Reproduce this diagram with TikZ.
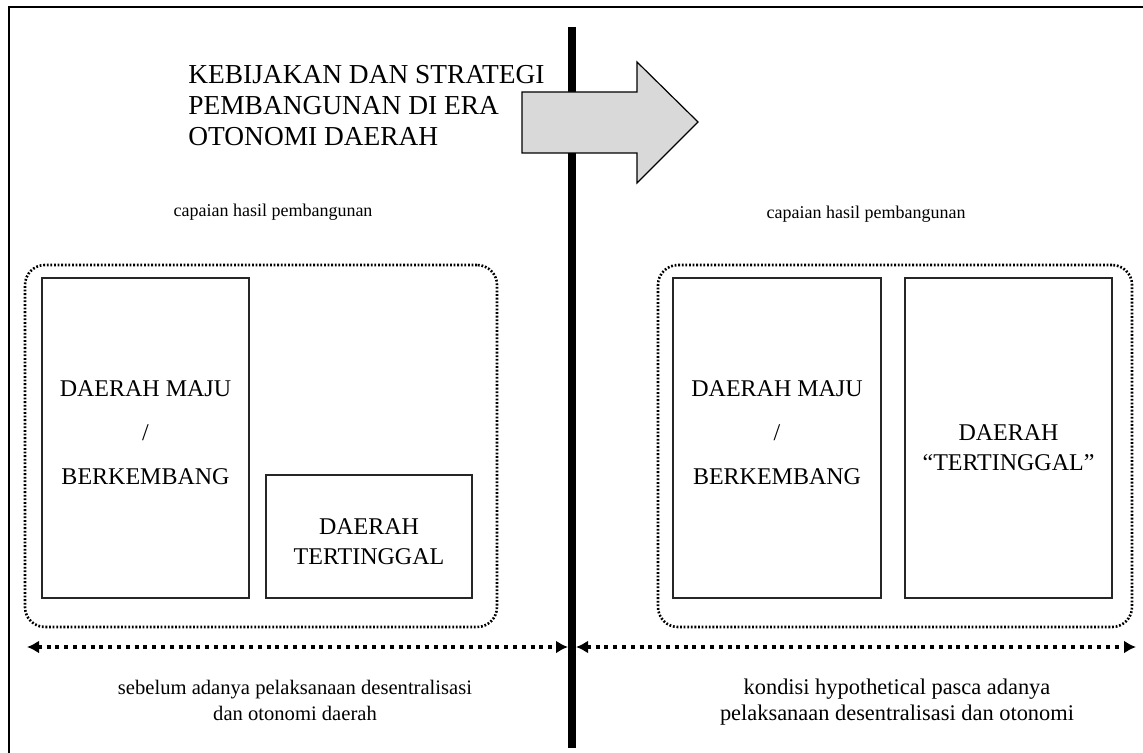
\documentclass[tikz,border=0pt]{standalone}
\usepackage{fontspec}
\setmainfont{Liberation Serif}
\usetikzlibrary{arrows.meta,positioning}
\tikzset{
    regbox/.style={rectangle,draw=black!85,line width=0.6pt,inner sep=0pt},
    regtext/.style={align=center,inner sep=0pt,font=\fontsize{12}{22}\selectfont},
    grpbox/.style={rectangle,draw=black,line width=1.3pt,dash pattern=on 0.9pt off 0.9pt,rounded corners=10pt,inner sep=0pt},
    spanarrow/.style={{Latex[length=6pt,width=6.5pt]}-{Latex[length=6pt,width=6.5pt]}, line width=2pt, dash pattern=on 2pt off 2.4pt},
    smalltext/.style={align=center, font=\fontsize{9}{11}\selectfont},
    captext/.style={align=center, font=\fontsize{10.3}{13}\selectfont}
}

\begin{document}
\begin{tikzpicture}[x=0.5pt,y=-0.5pt]
    \useasboundingbox (0,0) rectangle (1143,753);
    % outer frame
    \draw[line width=1pt] (9,753) -- (9,7) -- (1143,7);
    % divider
    \coordinate (divtop) at (572,27);
    \coordinate (divbot) at (572,748);
    \draw[line width=3.8pt] (divtop) -- (divbot);
    % title and block arrow
    \node[anchor=west, align=left, inner sep=0pt, font=\fontsize{13.7}{15.5}\selectfont] (title) at (188,106)
        {KEBIJAKAN DAN STRATEGI\\PEMBANGUNAN DI ERA\\OTONOMI DAERAH};
    \draw[fill=black!15, line width=0.6pt] (522,92) -- (637,92) -- (637,62) -- (698,122)
        -- (637,183) -- (637,153) -- (522,153) -- cycle;
    % before
    \node[smalltext] (cap1) at (273,212) {capaian hasil pembangunan};
    \node[grpbox, minimum width=236pt, minimum height=181pt] (grp1) at (261,446) {};
    \node[regbox, minimum width=103.5pt, minimum height=160pt] (maju1) at (145.5,438) {};
    \node[regtext] (maju1txt) at ([yshift=2.75pt]maju1.center) {DAERAH MAJU\\/\\BERKEMBANG};
    \node[regbox, minimum width=103pt, minimum height=61.5pt] (tinggal1) at (369,536.5) {};
    \node[regtext, font=\fontsize{12}{15}\selectfont] (tinggal1txt) at ([yshift=-2.5pt]tinggal1.center)
        {DAERAH\\TERTINGGAL};
    % after
    \node[smalltext] (cap2) at (866,214) {capaian hasil pembangunan};
    \node[grpbox, minimum width=237pt, minimum height=181pt] (grp2) at (895,446) {};
    \node[regbox, minimum width=104pt, minimum height=160pt] (maju2) at (777,438) {};
    \node[regtext] (maju2txt) at ([yshift=2.75pt]maju2.center) {DAERAH MAJU\\/\\BERKEMBANG};
    \node[regbox, minimum width=103.5pt, minimum height=160pt] (tinggal2) at (1008.5,438) {};
    \node[regtext, font=\fontsize{12}{15}\selectfont] (tinggal2txt) at ([yshift=-4.75pt]tinggal2.center)
        {DAERAH\\``TERTINGGAL''};
    % time spans
    \coordinate (lspanL) at (27,647);
    \coordinate (lspanR) at (568,647);
    \coordinate (rspanL) at (576,647);
    \coordinate (rspanR) at (1136,647);
    \draw[spanarrow] (lspanL) -- (lspanR);
    \draw[spanarrow] (rspanL) -- (rspanR);
    \node[captext] (era1) at (295,700) {sebelum adanya pelaksanaan desentralisasi\\dan otonomi daerah};
    \node[captext, font=\fontsize{11.2}{13}\selectfont] (era2) at (897,702)
        {kondisi hypothetical pasca adanya\\pelaksanaan desentralisasi dan otonomi};
\end{tikzpicture}
\end{document}
